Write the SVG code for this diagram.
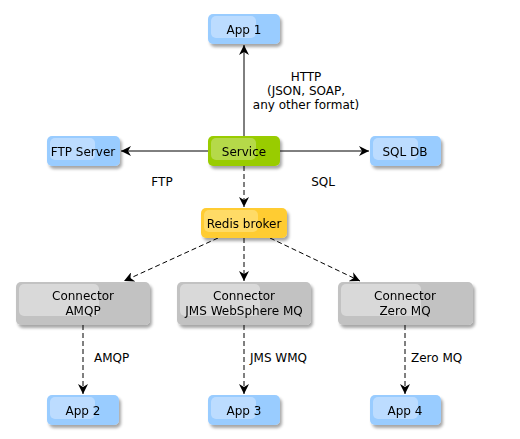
<svg xmlns="http://www.w3.org/2000/svg" width="520" height="439" viewBox="0 0 520 439">
<defs>
<marker id="ah" viewBox="0 0 10 10" refX="10" refY="5" markerWidth="10" markerHeight="10" markerUnits="userSpaceOnUse" orient="auto">
<path d="M0,0 L10,5 L0,10 L3,5 z" fill="#000"/>
</marker>
<filter id="sh" x="-10%" y="-10%" width="130%" height="140%">
<feGaussianBlur in="SourceAlpha" stdDeviation="1.5"/>
<feOffset dx="2" dy="3" result="b"/>
<feComponentTransfer><feFuncA type="linear" slope="0.35"/></feComponentTransfer>
<feMerge><feMergeNode/><feMergeNode in="SourceGraphic"/></feMerge>
</filter>
</defs>
<style>
text{font-family:"DejaVu Sans",sans-serif;font-size:12px;fill:#000}
.n text{text-anchor:middle}
.app .b{fill:#99ccff}
.app .h{fill:#bcdcff}
.svc .b{fill:#99cc00}
.svc .h{fill:#b5d94a}
.red .b{fill:#ffcc33}
.red .h{fill:#ffdb66}
.con .b{fill:#c2c2c2}
.con .h{fill:#d9d9d9}
.e{stroke:#000;stroke-width:1;fill:none;marker-end:url(#ah)}
.d{stroke-dasharray:5,3}
.lbl{text-anchor:middle}
</style>
<g id="connectors">
<path class="e" d="M244,136 L244,45"/>
<path class="e" d="M208,151 L121,151"/>
<path class="e" d="M280,151 L369,151"/>
<path class="e d" d="M244,166 L244,207"/>
<path class="e d" d="M218,238 L124,281"/>
<path class="e d" d="M244,238 L244,281"/>
<path class="e d" d="M270,238 L360,281"/>
<path class="e d" d="M83,325 L83,394"/>
<path class="e d" d="M244,325 L244,394"/>
<path class="e d" d="M405,325 L405,394"/>
</g>
<g id="edge-labels">
<text class="lbl" x="306" y="81">HTTP</text>
<text class="lbl" x="306" y="95">(JSON, SOAP,</text>
<text class="lbl" x="306" y="109">any other format)</text>
<text class="lbl" x="162" y="186">FTP</text>
<text class="lbl" x="323" y="186">SQL</text>
<text x="94" y="362">AMQP</text>
<text x="250" y="362">JMS WMQ</text>
<text x="411" y="362">Zero MQ</text>
</g>
<g id="app1" class="n app" filter="url(#sh)">
<rect class="b" x="208" y="14" width="72" height="30" rx="5"/>
<rect class="h" x="211" y="16" width="45" height="22" rx="5"/>
<text x="244" y="34">App 1</text>
</g>
<g id="service" class="n svc" filter="url(#sh)">
<rect class="b" x="208" y="136" width="72" height="30" rx="5"/>
<rect class="h" x="211" y="138" width="45" height="22" rx="5"/>
<text x="244" y="156">Service</text>
</g>
<g id="ftp" class="n app" filter="url(#sh)">
<rect class="b" x="47" y="136" width="73" height="30" rx="5"/>
<rect class="h" x="50" y="138" width="45" height="22" rx="5"/>
<text x="83" y="156">FTP Server</text>
</g>
<g id="sqldb" class="n app" filter="url(#sh)">
<rect class="b" x="370" y="136" width="71" height="30" rx="5"/>
<rect class="h" x="373" y="138" width="45" height="22" rx="5"/>
<text x="405" y="156">SQL DB</text>
</g>
<g id="redis" class="n red" filter="url(#sh)">
<rect class="b" x="201" y="208" width="86" height="30" rx="5"/>
<rect class="h" x="204" y="210" width="54" height="22" rx="5"/>
<text x="244" y="228">Redis broker</text>
</g>
<g id="conn-amqp" class="n con" filter="url(#sh)">
<rect class="b" x="16" y="282" width="134" height="43" rx="5"/>
<rect class="h" x="19" y="284" width="80" height="32" rx="5"/>
<text x="83" y="300">Connector</text>
<text x="83" y="315">AMQP</text>
</g>
<g id="conn-jms" class="n con" filter="url(#sh)">
<rect class="b" x="177" y="282" width="134" height="43" rx="5"/>
<rect class="h" x="180" y="284" width="80" height="32" rx="5"/>
<text x="244" y="300">Connector</text>
<text x="244" y="315">JMS WebSphere MQ</text>
</g>
<g id="conn-zero" class="n con" filter="url(#sh)">
<rect class="b" x="338" y="282" width="135" height="43" rx="5"/>
<rect class="h" x="341" y="284" width="80" height="32" rx="5"/>
<text x="405" y="300">Connector</text>
<text x="405" y="315">Zero MQ</text>
</g>
<g id="app2" class="n app" filter="url(#sh)">
<rect class="b" x="47" y="395" width="72" height="30" rx="5"/>
<rect class="h" x="50" y="397" width="45" height="22" rx="5"/>
<text x="83" y="415">App 2</text>
</g>
<g id="app3" class="n app" filter="url(#sh)">
<rect class="b" x="208" y="395" width="72" height="30" rx="5"/>
<rect class="h" x="211" y="397" width="45" height="22" rx="5"/>
<text x="244" y="415">App 3</text>
</g>
<g id="app4" class="n app" filter="url(#sh)">
<rect class="b" x="370" y="395" width="71" height="30" rx="5"/>
<rect class="h" x="373" y="397" width="45" height="22" rx="5"/>
<text x="405" y="415">App 4</text>
</g>
</svg>
